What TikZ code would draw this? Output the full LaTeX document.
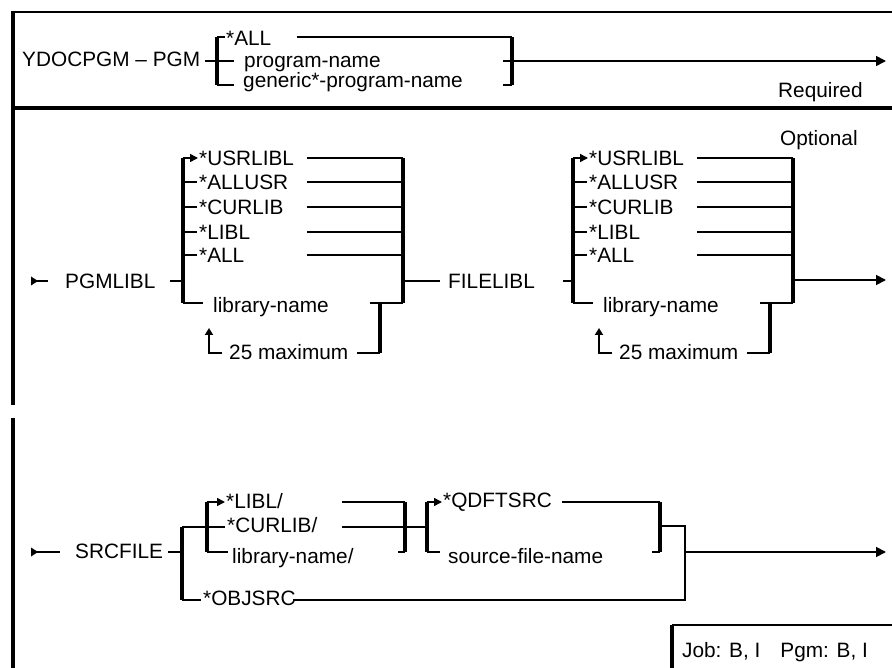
\documentclass[tikz,border=0pt]{standalone}
\usepackage{fontspec}
\setmainfont{Liberation Sans}
\usepackage{tikz}
\usetikzlibrary{arrows.meta}
\tikzset{
  % text and line styles
  word/.style={anchor=west, inner sep=0pt, text height=14.7pt, text depth=0pt, font=\fontsize{20.8}{24}\selectfont},
  rail/.style={line width=1.6pt},
  bar/.style={line width=3.4pt},
  rule/.style={line width=3.4pt},
  into/.style={rail, -{Triangle[length=8pt, width=8pt]}},
  outof/.style={rail, -{Triangle[length=10pt, width=10pt]}},
  loopback/.style={line width=2.6pt, -{Triangle[length=7pt, width=8pt]}},
}
% start marker of a syntax line
\newcommand{\entrytip}[1]{\fill (31,#1-4.5) -- (38,#1) -- (31,#1+4.5) -- cycle;}

\begin{document}
\begin{tikzpicture}[x=1pt, y=-1pt]
  \useasboundingbox (0,0) rectangle (892,668);

  % Frame
  \draw[rail] (12,12) -- (892,12);
  \draw[rule] (13,11) -- (13,405);
  \draw[rule] (13,418) -- (13,668);
  \draw[rule] (12,108) -- (892,108);
  \draw[rule] (672,668) -- (672,625);
  \draw[line width=2pt] (672,625) -- (892,625);
  \node[word] (attr) at (682,650) {Job: B, I\hspace{20pt}Pgm: B, I};

  % YDOCPGM - PGM
  \node[word] (cmd) at (22,59) {YDOCPGM – PGM};
  \draw[rail] (205,61) -- (217,61);
  \draw[bar] (217,37) -- (217,85);
  \draw[rail] (217,37) -- (225,37) (217,61) -- (234,61) (217,85) -- (234,85);
  \node[word] (pall) at (226,38) {*ALL};
  \node[word] (pname) at (244,60) {program-name};
  \node[word] (pgen) at (243,80) {generic*-program-name};
  \draw[rail] (297,37) -- (512,37);
  \draw[bar] (512,37) -- (512,85);
  \draw[rail] (503,85) -- (512,85);
  \draw[outof] (503,61) -- (886,61);
  \node[word] (req) at (778,90) {Required};

  % PGMLIBL / FILELIBL
  \node[word] (pgmlibl) at (65,281) {PGMLIBL};
  \entrytip{281}
  \draw[rail] (37,281) -- (48,281);
  \draw[rail] (170,281) -- (183,281);
  \draw[rail] (403,281) -- (440,281);
  \node[word] (filelibl) at (448,281) {FILELIBL};
  \draw[rail] (563,281) -- (573,281);
  \draw[outof] (793,280) -- (886,280);
  \node[word] (opt) at (780,138) {Optional};

  \foreach \g/\dx in {pgm/0, file/390} {
    \begin{scope}[xshift=\dx]
      \draw[bar] (183,158) -- (183,303);
      \draw[bar] (403,158) -- (403,303);
      \draw[into] (183,158) -- (198,158);
      \foreach \v/\yy [count=\i] in {*USRLIBL/158, *ALLUSR/182, *CURLIB/207, *LIBL/232, *ALL/255} {
        \node[word] (\g\i) at (199,\yy) {\v};
        \draw[rail] (307,\yy) -- (403,\yy);
      }
      \foreach \yy in {182,207,232,255}
        \draw[rail] (183,\yy) -- (197,\yy);
      \draw[rail] (183,303) -- (203,303);
      \node[word] (lib\g) at (213,305) {library-name};
      \draw[rail] (370,303) -- (403,303);
      \draw[bar] (380,303) -- (380,353);
      \draw[rail] (357,353) -- (380,353);
      \node[word] (max\g) at (229,352) {25 maximum};
      \draw[loopback] (222,353) -- (209,353) -- (209,328);
    \end{scope}
  }

  % SRCFILE
  \node[word] (srcfile) at (75,551) {SRCFILE};
  \entrytip{552}
  \draw[rail] (37,552) -- (60,552);
  \draw[rail] (168,552) -- (182,552);
  \draw[bar] (182,527) -- (182,600);
  \draw[rail] (182,527) -- (207,527);
  \draw[rail] (182,600) -- (201,600);
  \node[word] (objsrc) at (203,598) {*OBJSRC};
  \draw[rail] (293,600) -- (685,600) -- (685,526) -- (660,526);
  \draw[bar] (207,502) -- (207,552);
  \draw[into] (207,502) -- (225,502);
  \node[word] (libl) at (226,501) {*LIBL/};
  \draw[rail] (207,527) -- (225,527);
  \node[word] (curlib) at (227,525) {*CURLIB/};
  \draw[rail] (207,552) -- (228,552);
  \node[word] (libname) at (232,556) {library-name/};
  \draw[rail] (342,502) -- (405,502) (342,527) -- (427,527);
  \draw[bar] (405,502) -- (405,552);
  \draw[rail] (398,552) -- (405,552);
  \draw[bar] (427,502) -- (427,552);
  \draw[into] (427,502) -- (442,502);
  \node[word] (qdft) at (443,500) {*QDFTSRC};
  \draw[rail] (427,552) -- (440,552);
  \node[word] (srcname) at (448,556) {source-file-name};
  \draw[rail] (562,502) -- (660,502);
  \draw[bar] (660,502) -- (660,552);
  \draw[rail] (652,552) -- (660,552);
  \draw[outof] (685,552) -- (886,552);
\end{tikzpicture}
\end{document}
